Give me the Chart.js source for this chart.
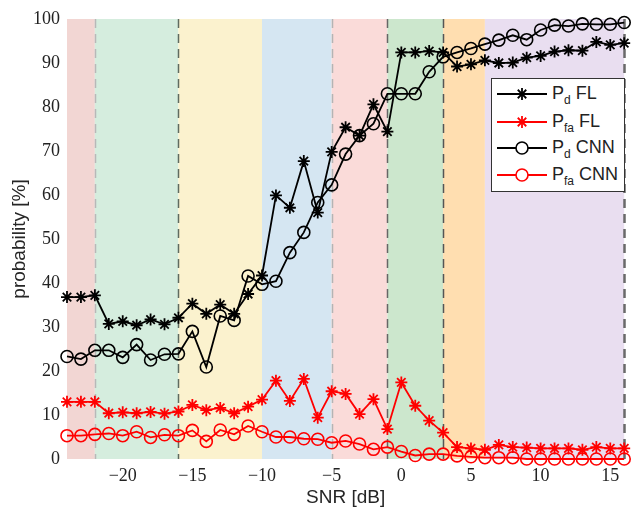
<!DOCTYPE html>
<html>
<head>
<meta charset="utf-8">
<script src="https://cdn.jsdelivr.net/npm/chart.js@4/dist/chart.umd.min.js"></script>
<style>
  html, body { margin: 0; padding: 0; background: #fff; }
  #wrap { position: relative; width: 632px; height: 512px; }
  #legend { position: absolute; left: 491px; top: 78px; width: 134px; height: 114px;
    box-sizing: border-box; border: 1px solid #333; background: #fff;
    font-family: "Liberation Sans", Arial, sans-serif; color: #222; }
  .row { position: absolute; left: 0; height: 24px; width: 132px; }
  .row svg { position: absolute; left: 5px; top: 0; }
  .row .lbl { position: absolute; left: 60px; top: 1px; font-size: 18px; line-height: 20px; white-space: nowrap; }
  .row .lbl sub { font-size: 12px; vertical-align: -5px; line-height: 0; }
</style>
</head>
<body>
<div id="wrap">
  <canvas id="c" width="632" height="512"></canvas>
  <div id="legend"></div>
</div>
<script>
// ---- data ----
const snr = [-24,-23,-22,-21,-20,-19,-18,-17,-16,-15,-14,-13,-12,-11,-10,-9,-8,-7,-6,-5,-4,-3,-2,-1,0,1,2,3,4,5,6,7,8,9,10,11,12,13,14,15,16];
const pdFL = [36.8,36.8,37.2,30.7,31.3,30.4,31.7,30.6,32.1,35.3,33.0,35.1,33.0,37.5,41.7,
              59.9,57.1,67.7,56.0,69.8,75.4,73.5,80.6,74.4,
              92.4,92.4,92.7,92.4,
              89.2,89.7,90.6,90.0,90.1,91.2,91.6,92.6,92.9,92.8,94.8,94.1,94.5];
const pfaFL = [13.0,13.0,13.0,10.4,10.6,10.4,10.7,10.3,10.8,12.3,11.1,11.6,10.4,11.9,13.5,
               17.8,13.2,18.2,9.4,15.4,14.8,10.2,13.6,6.8,
               17.4,12.1,8.7,6.0,
               2.7,2.4,2.1,3.2,2.7,2.6,2.4,2.4,2.4,2.1,2.7,2.4,2.4];
const pdCNN = [23.3,22.7,24.7,24.7,23.1,26.0,22.5,23.8,23.9,29.0,20.9,32.5,31.5,41.6,39.7,
               40.4,46.9,51.5,58.3,62.3,69.3,73.5,76.2,83.0,
               83.0,83.0,88.0,91.4,
               92.4,93.3,94.3,95.2,96.3,95.3,97.5,98.6,98.4,98.9,98.8,98.8,99.2];
const pfaCNN = [5.3,5.3,5.6,5.8,5.3,6.2,4.9,5.5,5.3,6.5,4.0,6.6,5.6,7.5,6.2,
                5.0,5.0,4.6,4.5,3.7,4.1,3.4,2.2,2.7,
                1.7,0.8,1.1,1.1,
                0.7,0.5,0.3,0.3,0.3,0.0,0.0,0.0,0.0,0.0,0.0,0.0,0.0];
const xTicks = [-20,-15,-10,-5,0,5,10,15];
const yTicks = [0,10,20,30,40,50,60,70,80,90,100];
const bandEdges = [-24,-22,-16,-10,-5,-1,3,6,16];
const bandColors = ['#f2d6d3','#d5edde','#fbf2ce','#d5e6f2','#fadbd9','#cce7cd','#ffdeb0','#e9def0'];
const dashX = [-22,-16,-5,-1,3,16];
const dashColors = ['#b8b8b8','#5f6b60','#b4b4b4','#666666','#555555','#6a6a6a'];
const dashWidths = [1.5,1.5,1.5,1.5,1.5,2.5];
const seriesNames = ['P_d FL','P_fa FL','P_d CNN','P_fa CNN'];

const pts = arr => snr.map((x,i)=>({x:x,y:arr[i]}));

const bandPlugin = {
  id: 'bands',
  beforeDatasetsDraw(chart) {
    const {ctx, chartArea, scales} = chart;
    const xs = scales.x;
    ctx.save();
    for (let i = 0; i < bandColors.length; i++) {
      const x0 = xs.getPixelForValue(bandEdges[i]);
      const x1 = xs.getPixelForValue(bandEdges[i+1]);
      ctx.fillStyle = bandColors[i];
      ctx.fillRect(x0, chartArea.top, x1 - x0, chartArea.bottom - chartArea.top);
    }
    for (let i = 0; i < dashX.length; i++) {
      const x = Math.round(xs.getPixelForValue(dashX[i])) + 0.5;
      ctx.beginPath();
      ctx.setLineDash([9,6]);
      ctx.strokeStyle = dashColors[i];
      ctx.lineWidth = dashWidths[i];
      ctx.moveTo(x, chartArea.top);
      ctx.lineTo(x, chartArea.bottom);
      ctx.stroke();
    }
    ctx.restore();
  }
};

const minus = v => (v < 0 ? '\u2212' + Math.abs(v) : String(v));

new Chart(document.getElementById('c'), {
  type: 'line',
  data: {
    datasets: [
      { label: seriesNames[0], data: pts(pdFL), borderColor: '#000', backgroundColor: '#000',
        borderWidth: 1.8, pointStyle: 'star', pointRadius: 6, pointBorderWidth: 1.8,
        pointBorderColor: '#000', clip: false },
      { label: seriesNames[1], data: pts(pfaFL), borderColor: '#ff0000', backgroundColor: '#ff0000',
        borderWidth: 1.8, pointStyle: 'star', pointRadius: 6, pointBorderWidth: 1.8,
        pointBorderColor: '#ff0000', clip: false },
      { label: seriesNames[2], data: pts(pdCNN), borderColor: '#000', backgroundColor: 'rgba(0,0,0,0)',
        borderWidth: 1.8, pointStyle: 'circle', pointRadius: 6, pointBorderWidth: 1.6,
        pointBackgroundColor: 'rgba(0,0,0,0)', pointBorderColor: '#000', clip: false },
      { label: seriesNames[3], data: pts(pfaCNN), borderColor: '#ff0000', backgroundColor: 'rgba(0,0,0,0)',
        borderWidth: 1.8, pointStyle: 'circle', pointRadius: 6, pointBorderWidth: 1.6,
        pointBackgroundColor: 'rgba(0,0,0,0)', pointBorderColor: '#ff0000', clip: false }
    ]
  },
  options: {
    responsive: false,
    animation: false,
    layout: { padding: { left: 0, right: 5, top: 19, bottom: 0 } },
    plugins: { legend: { display: false }, tooltip: { enabled: false } },
    elements: { line: { tension: 0 } },
    scales: {
      x: {
        type: 'linear', min: -24, max: 16,
        grid: { display: false, drawTicks: false },
        border: { display: false },
        afterBuildTicks: s => { s.ticks = xTicks.map(v => ({value: v})); },
        afterFit: s => { s.height = 53; },
        ticks: { padding: 6, color: '#222', autoSkip: false, maxRotation: 0,
          font: { family: '"Liberation Serif", "Times New Roman", serif', size: 18 },
          callback: v => minus(v) },
        title: { display: true, text: 'SNR [dB]', color: '#262626', padding: { top: 0, bottom: 3 },
          font: { family: '"Liberation Sans", Arial, sans-serif', size: 19 } }
      },
      y: {
        type: 'linear', min: 0, max: 100,
        grid: { display: false, drawTicks: false },
        border: { display: false },
        afterBuildTicks: s => { s.ticks = yTicks.map(v => ({value: v})); },
        afterFit: s => { s.width = 67; },
        ticks: { padding: 7, color: '#222',
          font: { family: '"Liberation Serif", "Times New Roman", serif', size: 18 },
          callback: v => minus(v) },
        title: { display: true, text: 'probability [%]', color: '#262626', padding: { top: 8, bottom: 0 },
          font: { family: '"Liberation Sans", Arial, sans-serif', size: 19 } }
      }
    }
  },
  plugins: [bandPlugin]
});

// ---- HTML legend (for subscripts) ----
const legendRows = [
  { main: 'P', sub: 'd', rest: ' FL', color: '#000', marker: 'star' },
  { main: 'P', sub: 'fa', rest: ' FL', color: '#ff0000', marker: 'star' },
  { main: 'P', sub: 'd', rest: ' CNN', color: '#000', marker: 'circle' },
  { main: 'P', sub: 'fa', rest: ' CNN', color: '#ff0000', marker: 'circle' }
];
const rowTops = [3, 31, 57, 84];
const leg = document.getElementById('legend');
legendRows.forEach((r, i) => {
  const d = document.createElement('div');
  d.className = 'row';
  d.style.top = rowTops[i] + 'px';
  let mk;
  if (r.marker === 'star') {
    const R = 6, c = 0.7071 * R;
    mk = `<g stroke="${r.color}" stroke-width="1.8">
      <line x1="25" y1="${12-R}" x2="25" y2="${12+R}"/><line x1="${25-R}" y1="12" x2="${25+R}" y2="12"/>
      <line x1="${25-c}" y1="${12-c}" x2="${25+c}" y2="${12+c}"/><line x1="${25-c}" y1="${12+c}" x2="${25+c}" y2="${12-c}"/></g>`;
  } else {
    mk = `<circle cx="25" cy="12" r="6" fill="#fff" stroke="${r.color}" stroke-width="1.6"/>`;
  }
  d.innerHTML = `<svg width="52" height="24"><line x1="0" y1="12" x2="50" y2="12" stroke="${r.color}" stroke-width="1.8"/>${mk}</svg>` +
    `<span class="lbl">${r.main}<sub>${r.sub}</sub>${r.rest}</span>`;
  leg.appendChild(d);
});
</script>
</body>
</html>
